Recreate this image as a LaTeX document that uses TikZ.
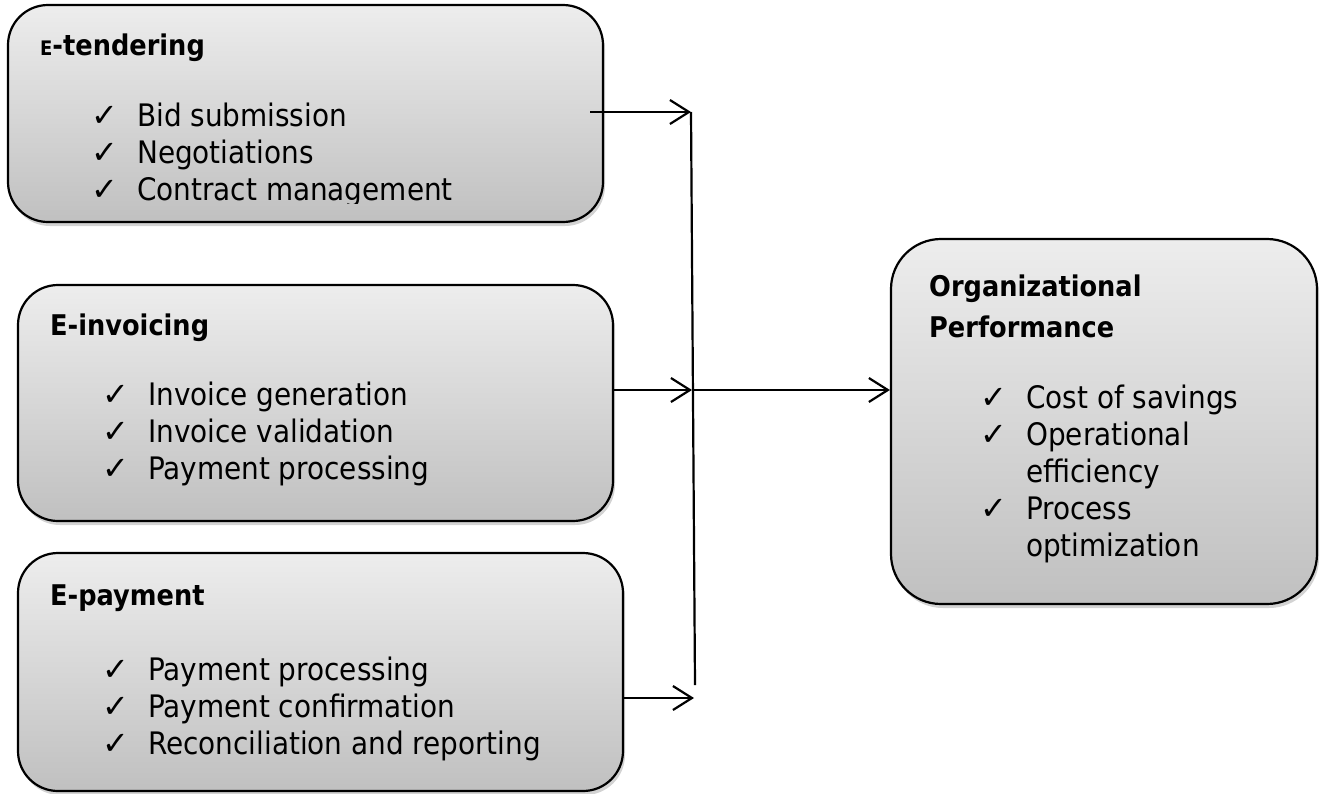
\documentclass[tikz,border=0pt]{standalone}
\usepackage{fontspec}
\IfFontExistsTF{DejaVu Sans Condensed}
  {\setmainfont{DejaVu Sans Condensed}\newcommand{\txtsize}{31}\newcommand{\hdsize}{28.5}}
  {\setmainfont{DejaVu Sans}\newcommand{\txtsize}{28}\newcommand{\hdsize}{26}}
\newfontfamily\checkfont{DejaVu Sans}
\usetikzlibrary{arrows.meta, shadows, positioning}
\definecolor{boxtop}{HTML}{EDEDED}
\definecolor{boxbot}{HTML}{C0C0C0}
\newcommand{\tick}{\makebox[46pt][l]{\checkfont\fontsize{32}{32}\selectfont ✓}}

\begin{document}
\begin{tikzpicture}[x=1pt, y=-1pt,
    panel/.style={draw=black, line width=2.2pt, rounded corners=40pt,
                  top color=boxtop, bottom color=boxbot, inner sep=0pt,
                  drop shadow={opacity=0.35, shadow xshift=2pt, shadow yshift=-4pt}},
    head/.style={anchor=base west, inner sep=0pt, font=\bfseries\fontsize{\hdsize}{41}\selectfont},
    items/.style={anchor=base west, inner sep=0pt, font=\fontsize{\txtsize}{37}\selectfont},
    link/.style={line width=2.2pt, -{Straight Barb[length=19pt, width=24pt]}},
  ]
  \useasboundingbox (0,0) rectangle (1325,793);

  % boxes
  \node[panel, minimum width=595pt, minimum height=217pt] (tender)  at (305.5,113.5) {};
  \node[panel, minimum width=595pt, minimum height=236pt] (invoice) at (315.5,403) {};
  \node[panel, minimum width=605pt, minimum height=238pt] (epay)    at (320.5,672) {};
  \node[panel, rounded corners=50pt, minimum width=426pt, minimum height=365pt] (perf) at (1104,421.5) {};

  % headings
  \node[head] (tenderhead)  at (40,55)  {{\fontsize{20}{20}\selectfont E}-tendering};
  \node[head] (invoicehead) at (50,335) {E-invoicing};
  \node[head] (epayhead)    at (50,605) {E-payment};
  \node[head] (perfhead)    at (929,296) {\begin{tabular}[t]{@{}l@{}}Organizational\\Performance\end{tabular}};

  % lists
  \begin{scope}
    \clip (0,0) rectangle (1325,203);
    \node[items] (tenderlist) at (91,126) {\begin{tabular}[t]{@{}l@{}l@{}}
      \tick & Bid submission\\ \tick & Negotiations\\ \tick & Contract management\end{tabular}};
  \end{scope}
  \node[items] (invoicelist) at (102,405) {\begin{tabular}[t]{@{}l@{}l@{}}
    \tick & Invoice generation\\ \tick & Invoice validation\\ \tick & Payment processing\end{tabular}};
  \node[items] (epaylist) at (102,680) {\begin{tabular}[t]{@{}l@{}l@{}}
    \tick & Payment processing\\ \tick & Payment confirmation\\ \tick & Reconciliation and reporting\end{tabular}};
  \node[items] (perflist) at (980,408) {\begin{tabular}[t]{@{}l@{}l@{}}
    \tick & Cost of savings\\ \tick & Operational\\ & efficiency\\ \tick & Process\\ & optimization\end{tabular}};

  % connectors
  \coordinate (jtop) at (691,112);
  \coordinate (jmid) at (692,390);
  \coordinate (jlow) at (694,698);
  \coordinate (jend) at (695,685);
  \draw[line width=2.2pt] (jtop) -- (jend);
  \draw[link] ([xshift=-14pt]tender.east |- jtop) -- (jtop);
  \draw[link] (invoice.east |- jmid) -- (jmid);
  \draw[link] (epay.east |- jlow) -- (jlow);
  \draw[link] (jmid) -- (perf.west |- jmid);
\end{tikzpicture}
\end{document}
